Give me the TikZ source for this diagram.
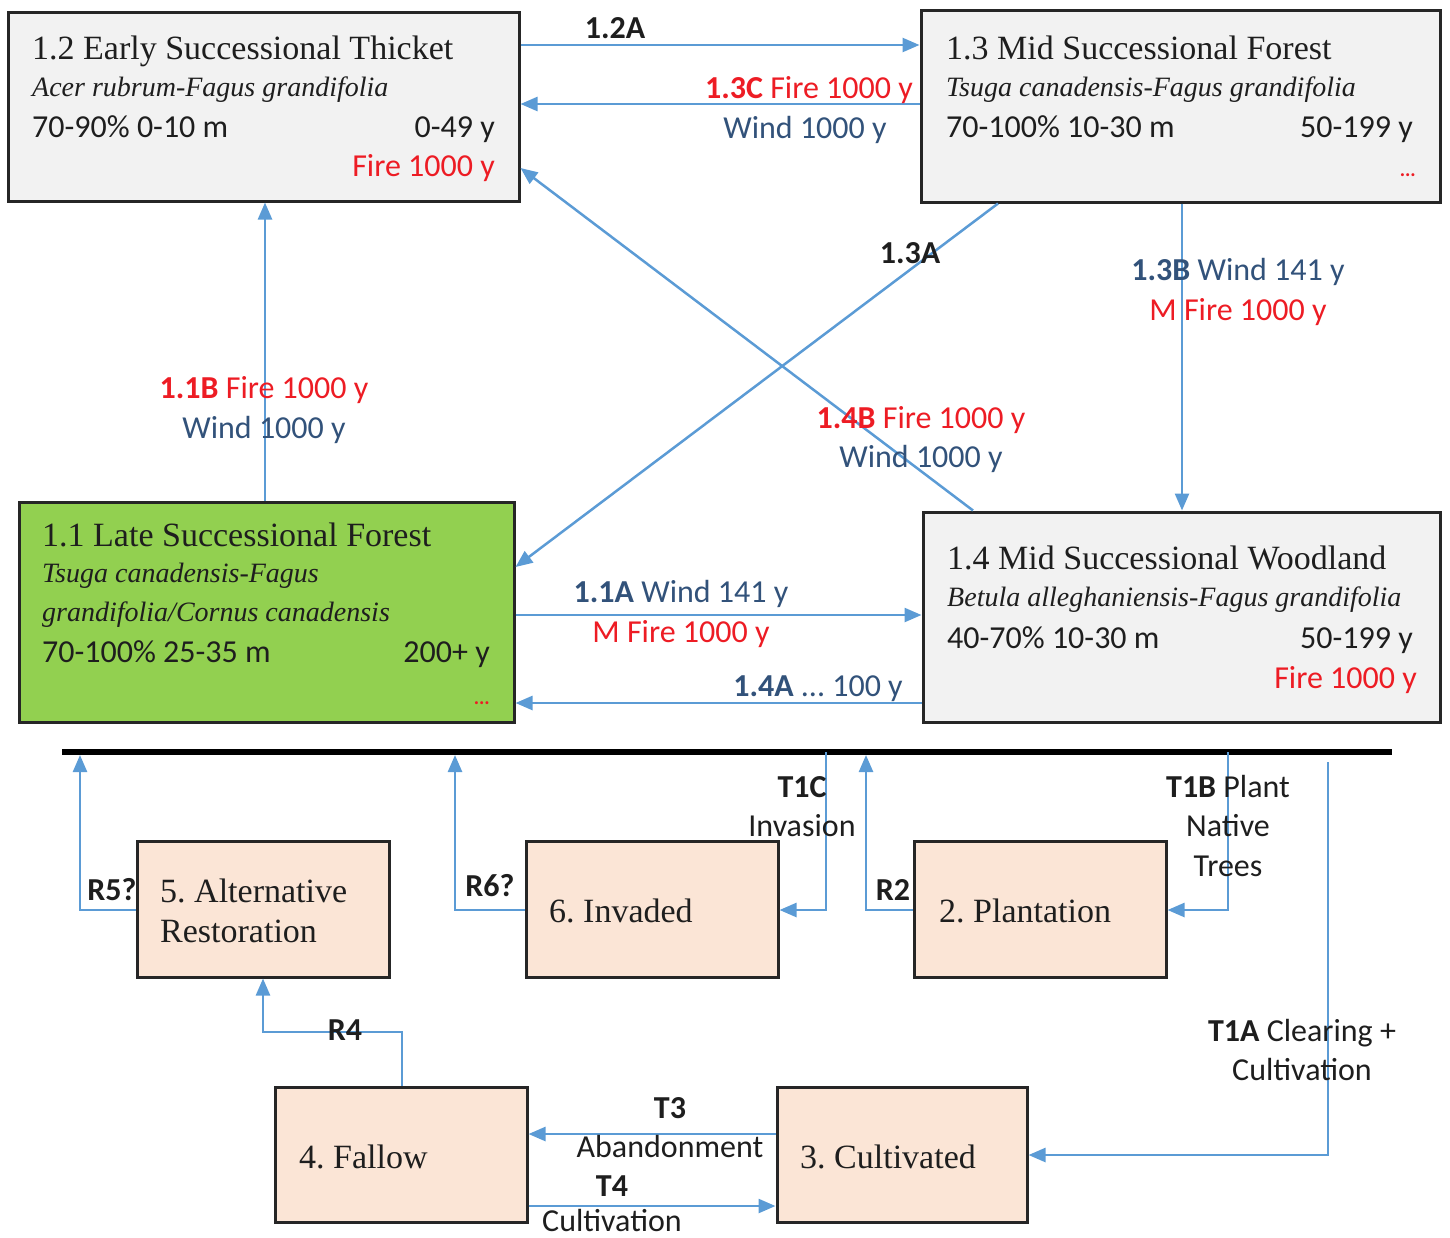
\documentclass[tikz,border=0pt]{standalone}
\usepackage{fontspec}
\setmainfont{Liberation Serif}
\newfontfamily\calib{Carlito}
\usetikzlibrary{arrows.meta}
\definecolor{firered}{RGB}{237,28,36}
\definecolor{windblue}{RGB}{50,82,122}
\definecolor{lineblue}{RGB}{91,155,213}
\definecolor{grayfill}{RGB}{242,242,242}
\definecolor{greenfill}{RGB}{146,208,80}
\definecolor{peachfill}{RGB}{251,229,214}
\definecolor{boxline}{RGB}{38,38,38}
\definecolor{inkc}{RGB}{30,30,30}
\frenchspacing
\begin{document}
\begin{tikzpicture}[x=1pt,y=-1pt,
  box/.style={draw=boxline, line width=3pt, rectangle, inner sep=0pt, anchor=center},
  ttl/.style={font=\fontsize{34}{40}\selectfont, text=inkc, inner sep=0pt, anchor=base west},
  itl/.style={font=\itshape\fontsize{28}{34}\selectfont, text=inkc, inner sep=0pt, anchor=base west},
  dat/.style={font=\calib\fontsize{32}{38}\selectfont, text=inkc, inner sep=0pt, anchor=base west},
  datr/.style={font=\calib\fontsize{32}{38}\selectfont, text=inkc, inner sep=0pt, anchor=base east},
  dots/.style={font=\calib\bfseries\fontsize{20}{22}\selectfont, text=firered, inner sep=0pt, anchor=base east},
  lab/.style={font=\calib\fontsize{32}{38}\selectfont, text=inkc, inner sep=0pt, anchor=base},
  btxt/.style={font=\fontsize{34}{40}\selectfont, text=inkc, inner sep=0pt, anchor=base west},
  arr/.style={draw=lineblue, line width=2.5pt, -{Triangle[length=17pt,width=14pt]}},
  ln/.style={draw=lineblue, line width=2.5pt}
]
\useasboundingbox (0,0) rectangle (1450,1237);

% ---------- state boxes ----------
\node[box, fill=grayfill, minimum width=511pt, minimum height=189pt] (b12) at (263.5,106.5) {};
\node[box, fill=grayfill, minimum width=519pt, minimum height=192pt] (b13) at (1180.5,106) {};
\node[box, fill=greenfill, minimum width=495pt, minimum height=220pt] (b11) at (266.5,612) {};
\node[box, fill=grayfill, minimum width=517pt, minimum height=210pt] (b14) at (1181.5,617) {};

\node[box, fill=peachfill, minimum width=252pt, minimum height=136pt] (b5) at (263,909) {};
\node[box, fill=peachfill, minimum width=252pt, minimum height=136pt] (b6) at (652,909) {};
\node[box, fill=peachfill, minimum width=252pt, minimum height=136pt] (b2) at (1040,909) {};
\node[box, fill=peachfill, minimum width=252pt, minimum height=135pt] (b4) at (401,1154.5) {};
\node[box, fill=peachfill, minimum width=250pt, minimum height=135pt] (b3) at (902,1154.5) {};

% ---------- box texts ----------
\node[ttl] (b12t) at (32,59) {1.2 Early Successional Thicket};
\node[itl] (b12s) at (32,96) {Acer rubrum-Fagus grandifolia};
\node[dat] (b12d) at (32,137) {70-90\% 0-10 m};
\node[datr] (b12a) at (495,137) {0-49 y};
\node[datr, text=firered] (b12f) at (495,176) {Fire 1000 y};

\node[ttl] (b13t) at (946,59) {1.3 Mid Successional Forest};
\node[itl] (b13s) at (946,96) {Tsuga canadensis-Fagus grandifolia};
\node[dat] (b13d) at (946,137) {70-100\% 10-30 m};
\node[datr] (b13a) at (1413,137) {50-199 y};
\node[dots] (b13e) at (1416,176) {...};

\node[ttl] (b11t) at (42,546) {1.1 Late Successional Forest};
\node[itl] (b11s) at (42,582) {Tsuga canadensis-Fagus};
\node[itl] (b11u) at (42,621) {grandifolia/Cornus canadensis};
\node[dat] (b11d) at (42,662) {70-100\% 25-35 m};
\node[datr] (b11a) at (490,662) {200+ y};
\node[dots] (b11e) at (490,704) {...};

\node[ttl] (b14t) at (947,569) {1.4 Mid Successional Woodland};
\node[itl] (b14s) at (947,606) {Betula alleghaniensis-Fagus grandifolia};
\node[dat] (b14d) at (947,648) {40-70\% 10-30 m};
\node[datr] (b14a) at (1413,648) {50-199 y};
\node[datr, text=firered] (b14f) at (1417,688) {Fire 1000 y};

\node[btxt] (b5t) at (160,902) {5. Alternative};
\node[btxt] (b5u) at (160,942) {Restoration};
\node[btxt] (b6t) at (549,922) {6. Invaded};
\node[btxt] (b2t) at (939,922) {2. Plantation};
\node[btxt] (b4t) at (299,1168) {4. Fallow};
\node[btxt] (b3t) at (800,1168) {3. Cultivated};

% ---------- divider ----------
\coordinate (barL) at (62,752);
\coordinate (barR) at (1392,752);
\coordinate (bar) at (0,755);
\draw[line width=6pt, black] (barL) -- (barR);

% ---------- reference-state transitions ----------
\draw[arr] (b12.east |- 0,45) -- (b13.west |- 0,45);
\draw[arr] (b13.west |- 0,104) -- (b12.east |- 0,104);
\draw[arr] (b14.north -| 973,0) -- (b12.east |- 0,168);
\draw[arr] (b13.south -| 998,0) -- (b11.east |- 0,567);
\draw[arr] (b13.south -| 1182,0) -- (b14.north -| 1182,0);
\draw[arr] (b11.north -| 265,0) -- (b12.south -| 265,0);
\draw[arr] (b11.east |- 0,615) -- (b14.west |- 0,615);
\draw[arr] (b14.west |- 0,703) -- (b11.east |- 0,703);

% ---------- lower transitions ----------
\draw[arr] (b5.west |- 0,910) -| (bar -| 80,0);
\draw[arr] (b6.west |- 0,910) -| (bar -| 455,0);
\draw[arr] (barL -| 826,0) |- (b6.east |- 0,910);
\draw[arr] (b2.west |- 0,910) -| (bar -| 866,0);
\draw[arr] (barL -| 1228,0) |- (b2.east |- 0,910);
\coordinate (t1a) at (1328,762);
\draw[arr] (t1a) |- (b3.east |- 0,1155);
\draw[arr] (b4.north -| 402,0) |- (b5.south |- 0,1032) -- (b5.south);
\draw[arr] (b3.west |- 0,1134) -- (b4.east |- 0,1134);
\draw[arr] (b4.east |- 0,1206) -- (b3.west |- 0,1206);

% ---------- labels ----------
\node[lab] (l12a) at (615,38) {\bfseries 1.2A};
\node[lab, anchor=base east, text=firered] (l13c) at (913,98) {{\bfseries 1.3C} Fire 1000 y};
\node[lab, text=windblue] (l13cw) at (805,138) {Wind 1000 y};
\node[lab] (l13a) at (910,263) {\bfseries 1.3A};
\node[lab, text=windblue] (l13b) at (1238,280) {{\bfseries 1.3B} Wind 141 y};
\node[lab, text=firered] (l13bf) at (1238,320) {M Fire 1000 y};
\node[lab, text=firered] (l11b) at (264,398) {{\bfseries 1.1B} Fire 1000 y};
\node[lab, text=windblue] (l11bw) at (264,438) {Wind 1000 y};
\node[lab, text=firered] (l14b) at (921,428) {{\bfseries 1.4B} Fire 1000 y};
\node[lab, text=windblue] (l14bw) at (921,467) {Wind 1000 y};
\node[lab, text=windblue] (l11a) at (681,602) {{\bfseries 1.1A} Wind 141 y};
\node[lab, text=firered] (l11af) at (681,642) {M Fire 1000 y};
\node[lab, text=windblue] (l14a) at (818,696) {{\bfseries 1.4A} ... 100 y};

\node[lab] (lr5) at (112,900) {\bfseries R5?};
\node[lab] (lr6) at (490,896) {\bfseries R6?};
\node[lab] (lt1c) at (802,797) {\bfseries T1C};
\node[lab] (lt1c2) at (802,836) {Invasion};
\node[lab] (lr2) at (893,900) {\bfseries R2};
\node[lab] (lt1b) at (1228,797) {{\bfseries T1B} Plant};
\node[lab] (lt1b2) at (1228,836) {Native};
\node[lab] (lt1b3) at (1228,876) {Trees};
\node[lab] (lt1a) at (1302,1041) {{\bfseries T1A} Clearing +};
\node[lab] (lt1a2) at (1302,1080) {Cultivation};
\node[lab] (lr4) at (345,1040) {\bfseries R4};
\node[lab] (lt3) at (670,1118) {\bfseries T3};
\node[lab] (lt3b) at (670,1157) {Abandonment};
\node[lab] (lt4) at (612,1196) {\bfseries T4};
\node[lab] (lt4b) at (612,1231) {Cultivation};
\end{tikzpicture}
\end{document}
